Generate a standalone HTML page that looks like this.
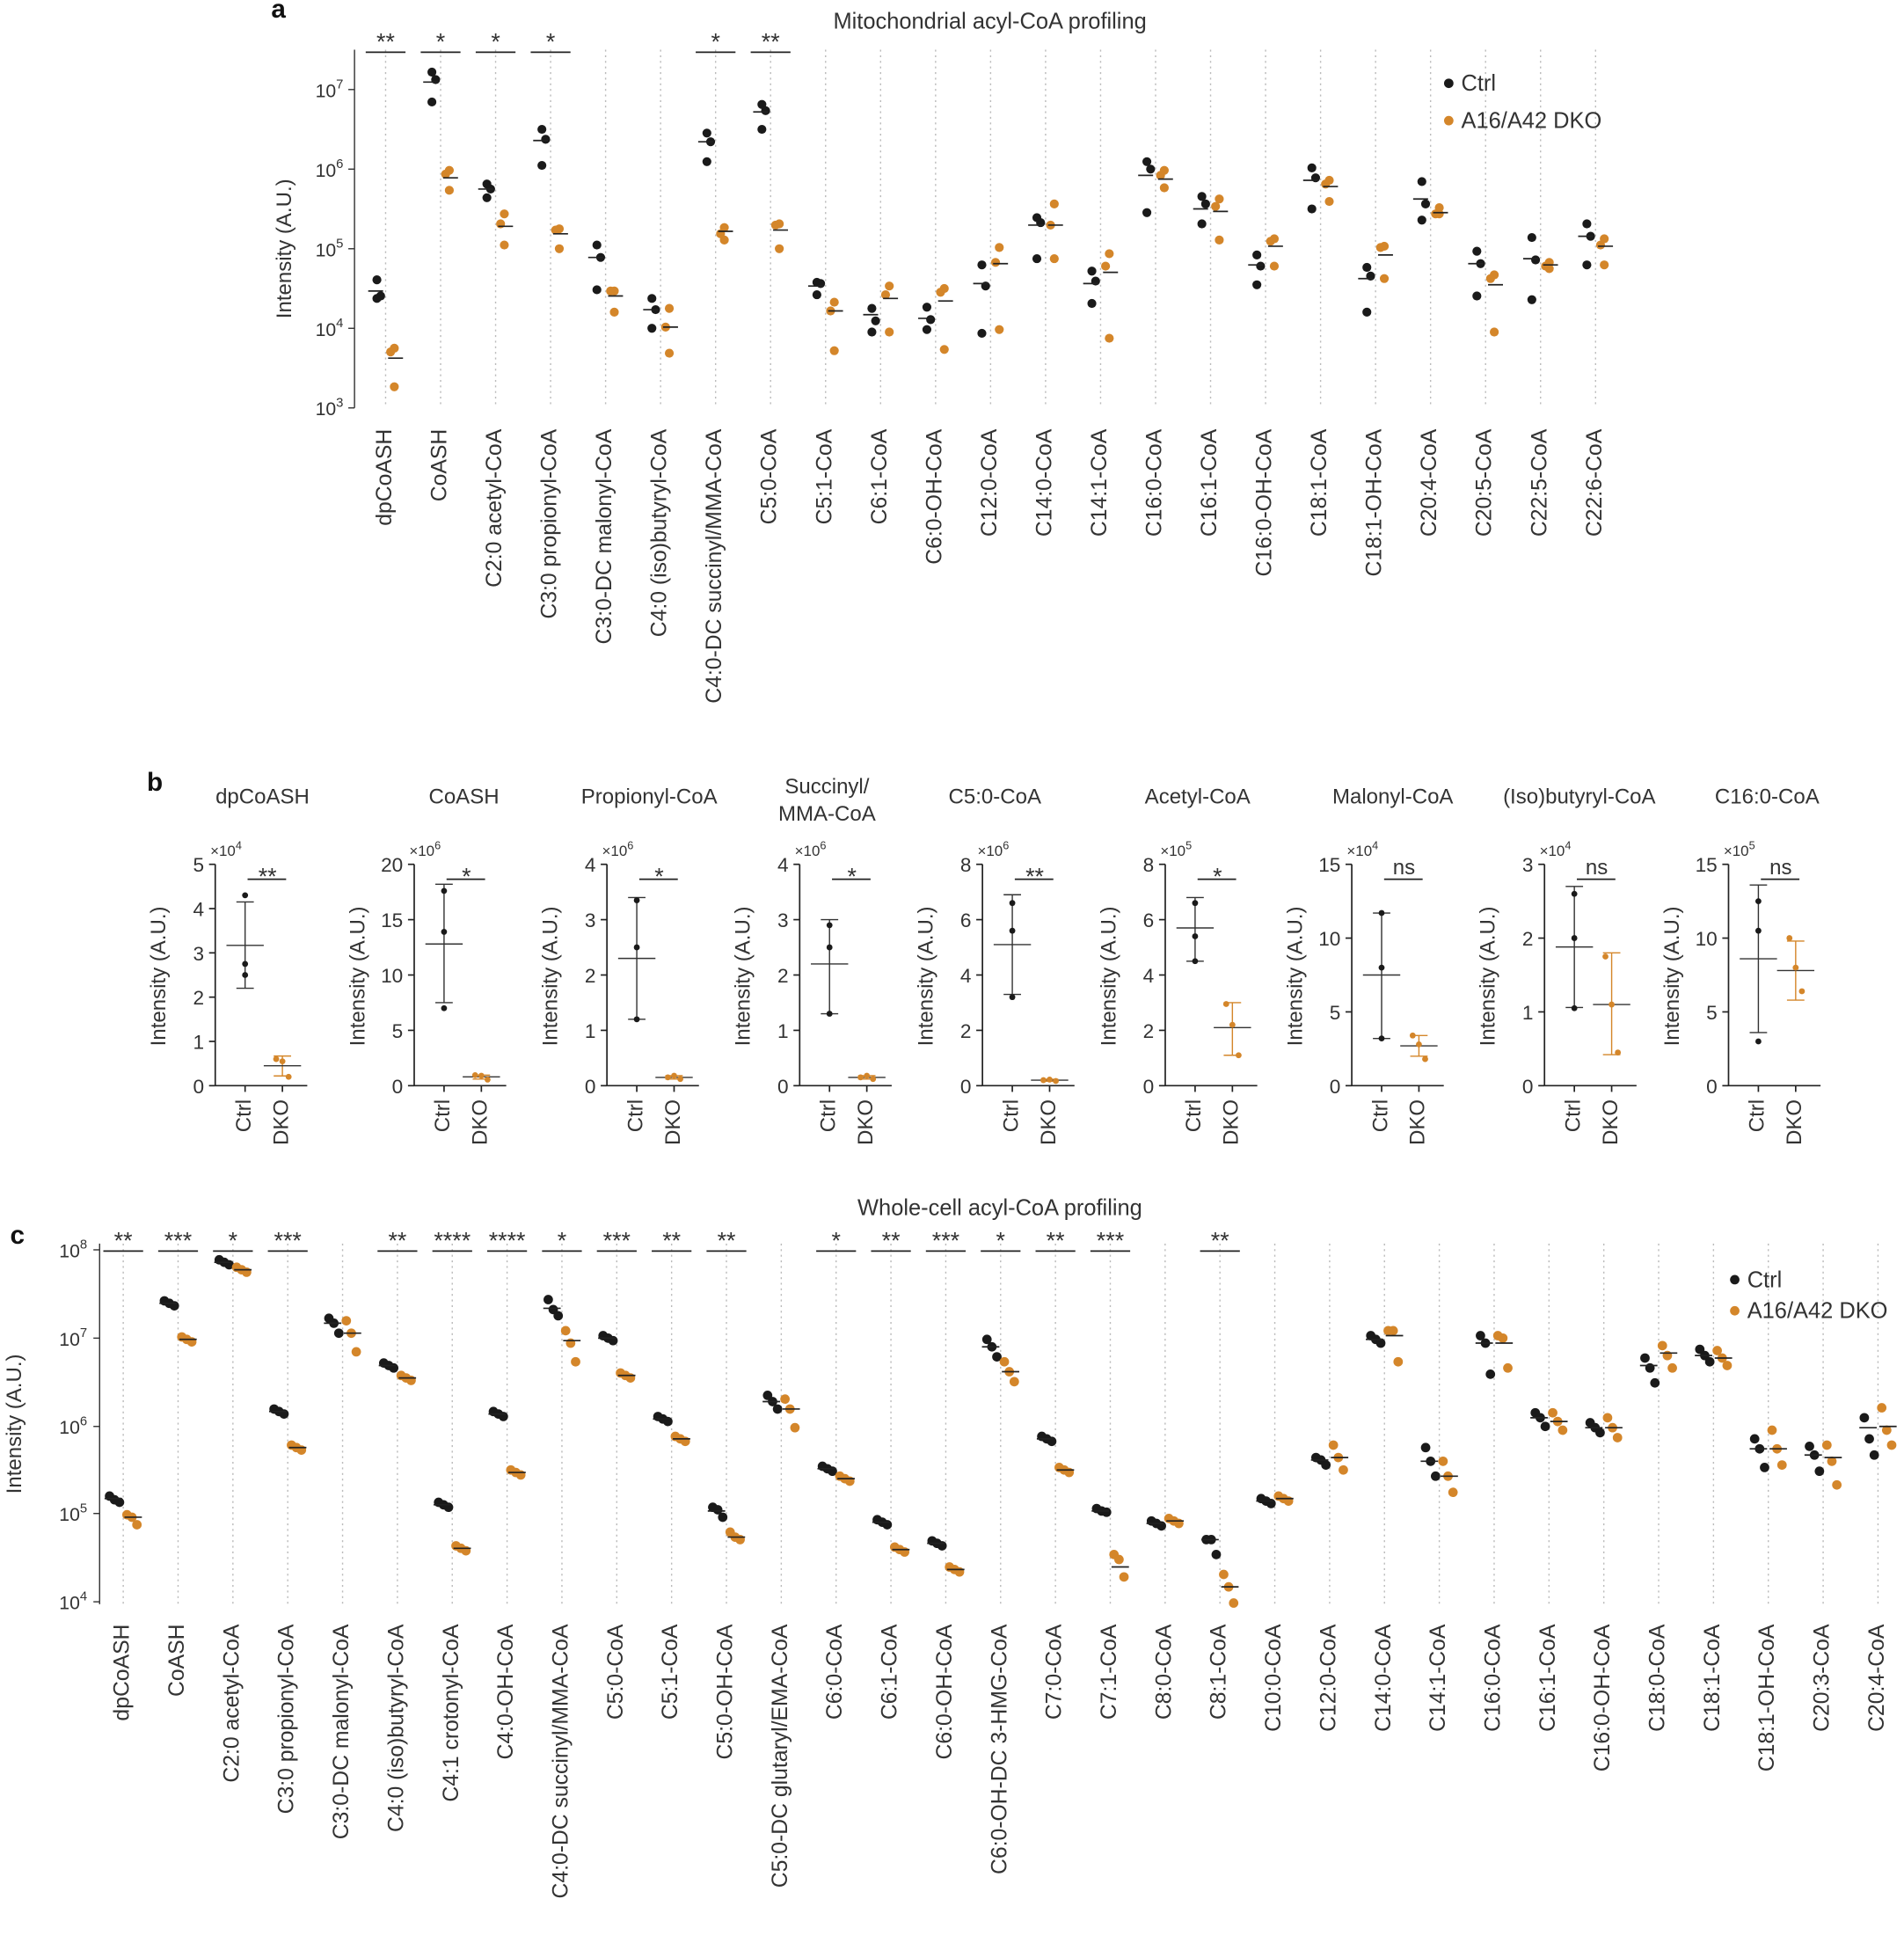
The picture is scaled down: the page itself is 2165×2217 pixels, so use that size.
<!DOCTYPE html>
<html><head><meta charset="utf-8">
<style>
html,body{margin:0;padding:0;background:#fff;}
svg{display:block;font-family:"Liberation Sans",sans-serif;}
</style></head>
<body>
<svg id="s" width="2165" height="2217" viewBox="0 0 1531 1568" xmlns="http://www.w3.org/2000/svg"></svg>
<script>
const S=document.getElementById('s');
let h='';
const C='#1a1a1a',O='#d4862a',G='#333';
function t(x,y,s,fs,a,extra){h+=`<text x="${x}" y="${y}" font-size="${fs}" text-anchor="${a||'start'}" fill="${G}" ${extra||''}>${s}</text>`;}
function l(x1,y1,x2,y2,c,w,extra){h+=`<line x1="${x1}" y1="${y1}" x2="${x2}" y2="${y2}" stroke="${c||G}" stroke-width="${w||1}" ${extra||''}/>`;}
function d(x,y,r,c){h+=`<circle cx="${x}" cy="${y}" r="${r}" fill="${c}"/>`;}
function rl(x,y,s,fs){h+=`<text x="${x}" y="${y}" font-size="${fs}" text-anchor="end" fill="${G}" transform="rotate(-90 ${x} ${y})" dominant-baseline="middle">${s}</text>`;}
function pw(x,y,e,fs){h+=`<text x="${x}" y="${y}" font-size="${fs}" text-anchor="end" fill="${G}">10<tspan dy="-7" font-size="${fs*0.7}">${e}</tspan></text>`;}

// ===== Panel a =====
h+=`<text x="218" y="14" font-size="21" font-weight="bold" fill="#111">a</text>`;
t(796,23,'Mitochondrial acyl-CoA profiling',18,'middle');
const la=['dpCoASH','CoASH','C2:0 acetyl-CoA','C3:0 propionyl-CoA','C3:0-DC malonyl-CoA','C4:0 (iso)butyryl-CoA','C4:0-DC succinyl/MMA-CoA','C5:0-CoA','C5:1-CoA','C6:1-CoA','C6:0-OH-CoA','C12:0-CoA','C14:0-CoA','C14:1-CoA','C16:0-CoA','C16:1-CoA','C16:0-OH-CoA','C18:1-CoA','C18:1-OH-CoA','C20:4-CoA','C20:5-CoA','C22:5-CoA','C22:6-CoA'];
const da=[[[225,238,240],234,[280,283,311],288],[[58,64,82],66,[137,140,153],143],[[148,152,159],152,[172,180,197],182],[[104,112,133],113,[184,185,200],188],[[197,207,233],207,[234,234,251],238],[[240,249,264],249,[248,263,284],263],[[107,114,130],114,[183,188,193],186],[[84,89,104],90,[180,181,200],185],[[227,228,237],230,[243,250,282],250],[[248,258,267],253,[230,237,267],240],[[247,257,265],256,[232,235,281],242],[[213,230,268],228,[199,211,265],212],[[175,179,208],181,[164,181,208],181],[[218,226,244],228,[204,214,272],219],[[130,136,171],141,[137,141,151],144],[[158,164,180],168,[160,166,193],170],[[205,214,229],213,[192,194,214],198],[[135,143,168],145,[145,148,162],150],[[215,222,251],224,[198,199,224],205],[[146,164,177],160,[167,172,172],171],[[202,212,238],212,[221,224,267],229],[[191,209,241],208,[211,214,216],213],[[180,190,213],190,[192,197,213],198]];
const siga={0:'**',1:'*',2:'*',3:'*',6:'*',7:'**'};
l(285,40,285,328);
[[72,7],[136,6],[200,5],[264,4],[328,3]].forEach(([y,e])=>{l(280,y,285,y);pw(276,y+6,e,15);});
h+=`<text x="234" y="200" font-size="17" text-anchor="middle" fill="${G}" transform="rotate(-90 234 200)">Intensity (A.U.)</text>`;
la.forEach((s,i)=>{const x=310+i*44.23;
 l(x,40,x,328,'#bbb',1,'stroke-dasharray="1.5 3"');
 rl(x,345,s,17.5);
 const [cp,cm,dp,dm]=da[i];
 cp.forEach((y,j)=>d(x-7+(j%2)*3,y,3.6,C)); dp.forEach((y,j)=>d(x+7-(j%2)*3,y,3.6,O));
 l(x-14,cm,x-2,cm,'#222',1.2); l(x+2,dm,x+14,dm,'#222',1.2);
 if(siga[i]){l(x-16,42,x+16,42,'#222',1.3);t(x,40,siga[i],19,'middle');}
});
d(1165,67,3.8,C);t(1175,73,'Ctrl',18);d(1165,97,3.8,O);t(1175,103,'A16/A42 DKO',18);

// ===== Panel b =====
h+=`<text x="118" y="636" font-size="21" font-weight="bold" fill="#111">b</text>`;
const bt=[['dpCoASH'],['CoASH'],['Propionyl-CoA'],['Succinyl/','MMA-CoA'],['C5:0-CoA'],['Acetyl-CoA'],['Malonyl-CoA'],['(Iso)butyryl-CoA'],['C16:0-CoA']];
const bx=[173,333,488,643,790,937,1087,1242,1390];
const btc=[211,373,522,665,800,963,1120,1270,1421];
const bmax=[5,20,4,4,8,8,15,3,15],bstep=[1,5,1,1,2,2,5,1,5],bexp=[4,6,6,6,6,5,4,4,5];
const bd=[[[4.3,2.75,2.5],3.17,4.15,2.2,[0.6,0.55,0.2],0.45,0.67,0.22,'**'],
[[17.6,13.9,7],12.8,18.2,7.5,[0.95,0.9,0.55],0.8,0.95,0.6,'*'],
[[3.35,2.5,1.2],2.3,3.4,1.2,[0.15,0.18,0.12],0.15,0.18,0.12,'*'],
[[2.9,2.5,1.3],2.2,3.0,1.3,[0.15,0.18,0.12],0.15,0.18,0.12,'*'],
[[6.6,5.6,3.2],5.1,6.9,3.3,[0.2,0.22,0.17],0.2,0.23,0.16,'**'],
[[6.6,5.4,4.5],5.7,6.8,4.5,[2.95,2.2,1.1],2.1,3.0,1.1,'*'],
[[11.7,8,3.2],7.5,11.7,3.2,[3.4,2.8,1.8],2.7,3.4,2.0,'ns'],
[[2.6,2.0,1.05],1.88,2.7,1.06,[1.75,1.1,0.45],1.1,1.8,0.42,'ns'],
[[12.5,10.5,3],8.6,13.6,3.6,[10,8,6.4],7.8,9.8,5.8,'ns']];
bx.forEach((ax,k)=>{
 const tt=bt[k]; if(tt.length==1)t(btc[k],646,tt[0],17,'middle'); else {t(btc[k],638,tt[0],17,'middle');t(btc[k],660,tt[1],17,'middle');}
 const Y=v=>873-178*v/bmax[k];
 l(ax,695,ax,873,'#222',1.2); l(ax,873,ax+74,873,'#222',1.2);
 for(let v=0;v<=bmax[k]+1e-9;v+=bstep[k]){const y=Y(v);l(ax-5,y,ax,y,'#222',1.2);t(ax-9,y+6,v,16,'end');}
 h+=`<text x="${ax-4}" y="688" font-size="12" fill="${G}">×10<tspan dy="-5" font-size="9">${bexp[k]}</tspan></text>`;
 h+=`<text x="${ax-40}" y="785" font-size="17" text-anchor="middle" fill="${G}" transform="rotate(-90 ${ax-40} 785)">Intensity (A.U.)</text>`;
 const cx=ax+24,dx=ax+54;
 l(cx,873,cx,878,'#222',1.2);l(dx,873,dx,878,'#222',1.2);
 rl(cx,884,'Ctrl',17);rl(dx,884,'DKO',17);
 const [cp,cm,ct,cb,dp,dm,dt,db,sg]=bd[k];
 l(cx,Y(ct),cx,Y(cb),'#333',1);l(cx-7,Y(ct),cx+7,Y(ct),'#333',1);l(cx-7,Y(cb),cx+7,Y(cb),'#333',1);l(cx-15,Y(cm),cx+15,Y(cm),'#333',1);
 cp.forEach(v=>d(cx,Y(v),2.4,C));
 l(dx,Y(dt),dx,Y(db),O,1);l(dx-7,Y(dt),dx+7,Y(dt),O,1);l(dx-7,Y(db),dx+7,Y(db),O,1);l(dx-15,Y(dm),dx+15,Y(dm),'#333',1);
 dp.forEach((v,j)=>d(dx+(j-1)*5,Y(v),2.4,O));
 l(cx+2,707,dx+3,707,'#222',1.2); t((cx+dx)/2+3,sg=='ns'?703:711,sg,sg=='ns'?17:19,'middle');
});

// ===== Panel c =====
h+=`<text x="8" y="1000" font-size="21" font-weight="bold" fill="#111">c</text>`;
t(804,977,'Whole-cell acyl-CoA profiling',18,'middle');
const lc=['dpCoASH','CoASH','C2:0 acetyl-CoA','C3:0 propionyl-CoA','C3:0-DC malonyl-CoA','C4:0 (iso)butyryl-CoA','C4:1 crotonyl-CoA','C4:0-OH-CoA','C4:0-DC succinyl/MMA-CoA','C5:0-CoA','C5:1-CoA','C5:0-OH-CoA','C5:0-DC glutaryl/EMA-CoA','C6:0-CoA','C6:1-CoA','C6:0-OH-CoA','C6:0-OH-DC 3-HMG-CoA','C7:0-CoA','C7:1-CoA','C8:0-CoA','C8:1-CoA','C10:0-CoA','C12:0-CoA','C14:0-CoA','C14:1-CoA','C16:0-CoA','C16:1-CoA','C16:0-OH-CoA','C18:0-CoA','C18:1-CoA','C18:1-OH-CoA','C20:3-CoA','C20:4-CoA'];
const dc=[[1205,1220,[1203,1206,1208],[1218,1220,1226]],[1048,1077],[1015,1021],[1135,1164],[1064,1072,[1060,1064,1072],[1062,1072,1087]],[1098,1108],[1210,1245],[1137,1184],[1052,1078,[1045,1053,1058],[1070,1080,1095]],[1076,1106],[1141,1157],[1215,1236,[1212,1214,1220],[1232,1236,1238]],[1127,1133,[1122,1127,1133],[1125,1133,1148]],[1181,1189],[1224,1246],[1241,1262],[1083,1103,[1077,1083,1091],[1095,1103,1111]],[1157,1182],[1215,1260,[1213,1215,1216],[1250,1254,1268]],[1225,1223],[1238,1276,[1238,1238,1250],[1266,1276,1289]],[1207,1205],[1174,1172,[1172,1174,1178],[1162,1172,1182]],[1077,1074,[1074,1077,1080],[1070,1070,1095]],[1175,1187,[1164,1175,1187],[1175,1187,1200]],[1080,1080,[1074,1080,1105],[1074,1076,1100]],[1140,1143,[1136,1140,1147],[1136,1143,1150]],[1148,1148,[1144,1148,1152],[1140,1148,1156]],[1098,1088,[1092,1100,1112],[1082,1090,1100]],[1090,1092,[1085,1090,1095],[1086,1092,1098]],[1165,1165,[1157,1165,1180],[1150,1165,1178]],[1170,1172,[1163,1170,1183],[1162,1175,1194]],[1148,1147,[1140,1157,1170],[1132,1150,1162]]];
const sigc={0:'**',1:'***',2:'*',3:'***',5:'**',6:'****',7:'****',8:'*',9:'***',10:'**',11:'**',13:'*',14:'**',15:'***',16:'*',17:'**',18:'***',20:'**'};
l(80,1000,80,1290);
[[1005,8],[1076,7],[1147,6],[1217,5],[1288,4]].forEach(([y,e])=>{l(75,y,80,y);pw(70,y+6,e,15);});
h+=`<text x="17" y="1145" font-size="17" text-anchor="middle" fill="${G}" transform="rotate(-90 17 1145)">Intensity (A.U.)</text>`;
lc.forEach((s,i)=>{const x=99+i*44.1;
 l(x,1000,x,1290,'#bbb',1,'stroke-dasharray="1.5 3"');
 rl(x,1306,s,17.5);
 let [cm,dm,cp,dp]=dc[i]; cp=cp||[cm-2,cm,cm+2]; dp=dp||[dm-2,dm,dm+2];
 cp.forEach((y,j)=>d(x-11+j*4,y,3.8,C)); dp.forEach((y,j)=>d(x+3+j*4,y,3.8,O));
 l(x-15,cm,x-1,cm,'#222',1.2); l(x+1,dm,x+15,dm,'#222',1.2);
 if(sigc[i]){l(x-16,1006,x+16,1006,'#222',1.3);t(x,1004,sigc[i],19,'middle');}
});
d(1395,1029,3.8,C);t(1405,1035,'Ctrl',18);d(1395,1054,3.8,O);t(1405,1060,'A16/A42 DKO',18);
S.innerHTML=h;
</script>
</body></html>
